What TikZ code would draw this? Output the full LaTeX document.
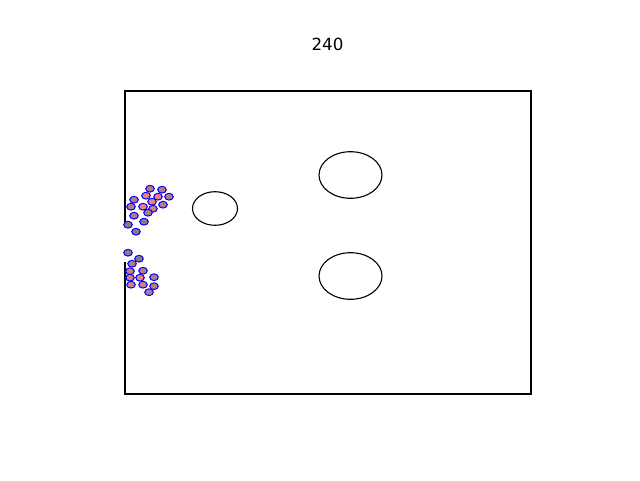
\documentclass[tikz,border=0pt]{standalone}
\usepackage{fontspec}
\setmainfont{DejaVu Sans}
\usetikzlibrary{calc}
\definecolor{grainA}{HTML}{8C7A84}
\definecolor{grainB}{HTML}{B47C86}
\definecolor{grainC}{HTML}{CC8086}
\definecolor{grainD}{HTML}{F28080}
\tikzset{grain/.style={draw=blue,line width=1.0pt}}
\begin{document}
\begin{tikzpicture}[x=1pt,y=-1pt]
\useasboundingbox (0,0) rectangle (640,480);
\def\gx{4.3}
\def\gy{3.4}
\coordinate (TL) at (125,91);
\coordinate (BR) at (531,394);
\coordinate (GapTop) at (125,225);
\coordinate (GapBot) at (125,262);

% walls with inlet gap
\draw[line width=1.4pt] (GapTop) -- (TL) -- (BR|-TL) -- (BR) -- (TL|-BR) -- (GapBot);

% obstacles
\draw[line width=1.1pt] (215,208.5) ellipse (22.5 and 16.8);
\draw[line width=1.1pt] (350.5,175) ellipse (31.5 and 23.3);
\draw[line width=1.1pt] (350.5,276) ellipse (31.5 and 23.3);

% grains
\foreach \px/\py/\c in {150/188.7/grainB, 162/189.7/grainB, 146/195.7/grainD, 158/196.7/grainD,
  169/196.7/grainB, 134/199.7/grainB, 152/201.7/grainD, 163/204.7/grainB, 131/206.7/grainB,
  143/206.7/grainD, 153/208.7/grainC, 148/212.7/grainB, 134/215.7/grainB, 144/221.7/grainA,
  128/224.7/grainA, 136/231.7/grainA,
  128/252.7/grainA, 139/258.7/grainA, 132/263.7/grainB, 143/270.7/grainB, 130/271.2/grainC,
  130/277.7/grainC, 140/277.7/grainD, 154/277.2/grainB, 131/284.7/grainC, 143/284.7/grainC,
  154/286.2/grainB, 149/292.2/grainB}
  \filldraw[grain,fill=\c] (\px,\py) ellipse [x radius=\gx, y radius=\gy];

\node[font=\fontsize{16.7}{20}\selectfont] at (327.5,44) {240};
\end{tikzpicture}
\end{document}
